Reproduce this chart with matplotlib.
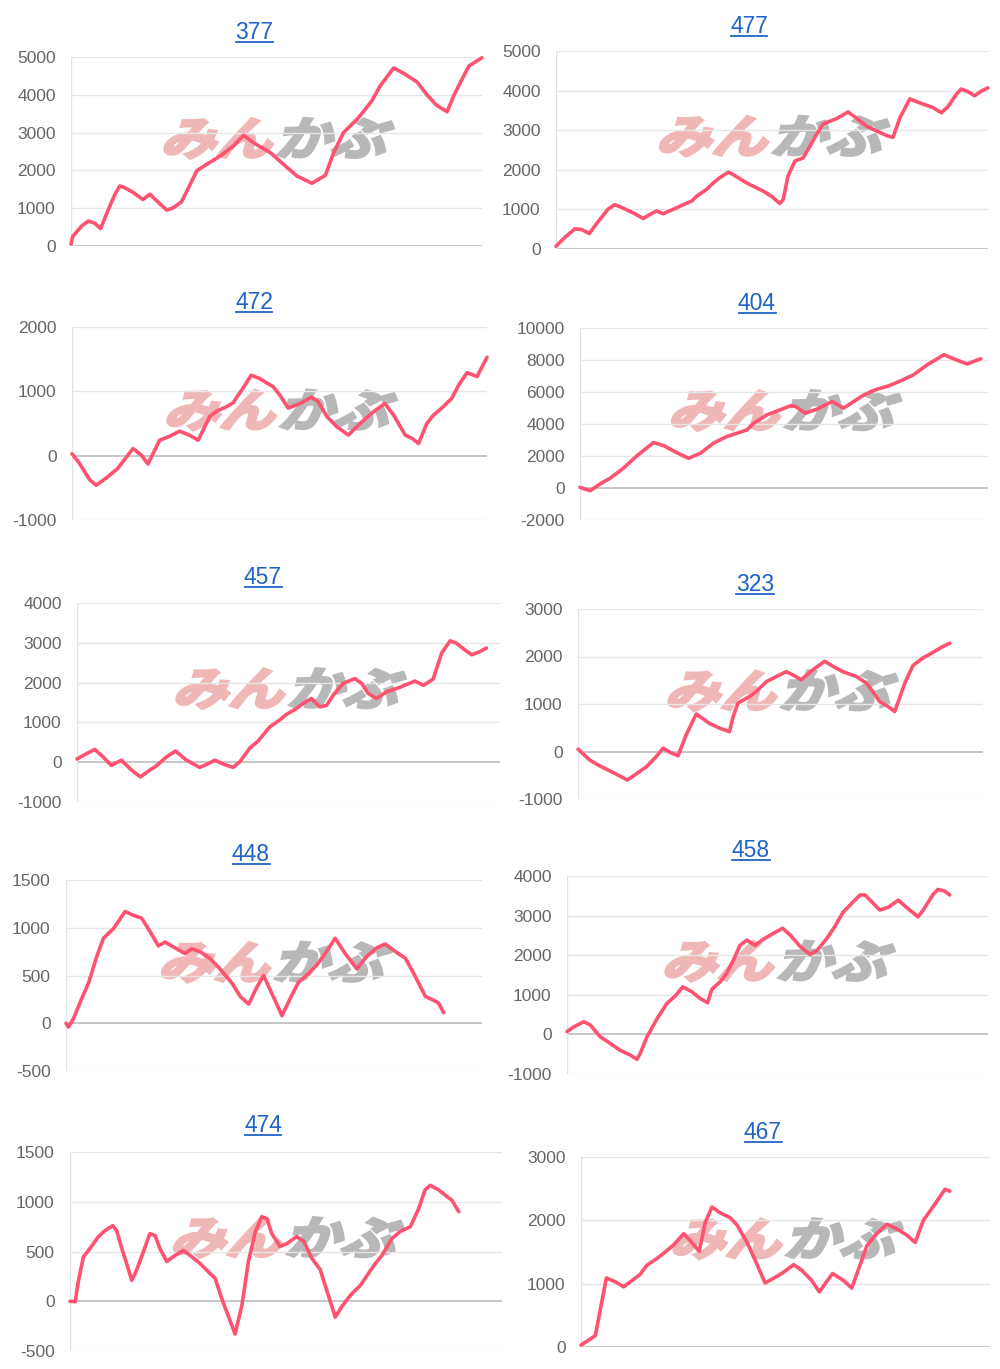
import matplotlib
matplotlib.use('Agg')
import matplotlib.pyplot as plt
from matplotlib.textpath import TextPath
from matplotlib.font_manager import FontProperties
from matplotlib.patches import PathPatch
from matplotlib.transforms import Affine2D, IdentityTransform
from matplotlib.lines import Line2D

# racer numbers shown above each chart
racers = ['377', '477', '472', '404', '457', '323', '448', '458', '474', '467']

# x = position through the period (% of axis), y = cumulative balance
x_377 = [0, 0.4, 2.6, 4.2, 5.8, 7.2, 9.1, 10.7, 11.9, 13.1, 15.2, 17.5, 19.2, 20.9, 23.3,
         24.9, 26.9, 29.0, 30.6, 33.0, 36.3, 39.5, 42.0, 44.4, 48.5, 51.7, 55.0, 58.6,
         61.9, 63.9, 66.3, 70.0, 73.2, 75.2, 78.5, 80.9, 84.2, 86.6, 89.0, 91.5, 93.1,
         94.7, 96.8, 100]
y_377 = [50, 250, 530, 660, 600, 460, 970, 1370, 1590, 1540, 1410, 1230, 1370, 1190, 950,
         1010, 1170, 1630, 1990, 2160, 2380, 2650, 2930, 2730, 2470, 2160, 1850, 1660,
         1870, 2470, 3000, 3400, 3840, 4230, 4710, 4570, 4340, 4000, 3720, 3550, 3970,
         4320, 4760, 4980]

x_477 = [0, 2.1, 4.4, 6.0, 7.7, 9.8, 12.1, 13.6, 15.6, 17.9, 20.2, 21.7, 23.3, 24.8, 27.1,
         29.5, 31.4, 32.5, 34.8, 36.4, 37.9, 39.9, 41.0, 44.1, 48.0, 49.9, 51.8, 52.6,
         53.7, 55.3, 57.2, 58.8, 60.3, 61.8, 64.9, 67.6, 69.5, 71.9, 74.2, 76.9, 78.0,
         79.6, 81.9, 84.2, 87.3, 89.2, 90.7, 92.7, 93.8, 95.4, 96.9, 98.5, 100]
y_477 = [70, 300, 510, 490, 390, 700, 1010, 1120, 1030, 910, 770, 870, 960, 890, 1000,
         1120, 1210, 1330, 1500, 1670, 1800, 1940, 1880, 1670, 1460, 1330, 1150, 1250,
         1840, 2220, 2300, 2600, 2890, 3160, 3290, 3460, 3310, 3100, 2980, 2850, 2820,
         3310, 3790, 3690, 3570, 3440, 3590, 3910, 4040, 3970, 3870, 3990, 4070]

x_472 = [0, 1.8, 4.2, 5.8, 8.2, 11.0, 14.7, 16.7, 18.3, 21.1, 23.5, 25.9, 28.3, 30.4, 33.2,
         34.8, 37.2, 38.8, 41.2, 43.2, 45.2, 48.5, 50.1, 52.1, 54.9, 57.7, 59.3, 61.4,
         63.8, 66.6, 69.4, 72.6, 75.4, 77.5, 80.3, 81.9, 83.5, 85.5, 87.1, 89.1, 91.5,
         93.2, 95.2, 97.6, 100]
y_472 = [30, -120, -370, -460, -350, -200, 110, 10, -130, 240, 300, 380, 320, 240, 610,
         690, 760, 820, 1050, 1250, 1200, 1070, 940, 740, 810, 910, 840, 610,
         450, 320, 500, 680, 810, 630, 320, 270, 190, 500, 630, 740, 890,
         1100, 1290, 1230, 1530]

x_404 = [0, 2.5, 4.9, 7.4, 10.6, 13.9, 18.0, 20.5, 23.7, 26.6, 29.5, 32.7, 36.0, 40.9, 42.6,
         45.8, 49.1, 51.6, 52.8, 55.2, 58.1, 61.8, 64.6, 67.1, 69.6, 72.4, 75.7, 78.6,
         81.8, 85.1, 89.2, 91.7, 94.9, 98.2]
y_404 = [40, -170, 250, 610, 1230, 2000, 2840, 2650, 2210, 1860, 2170, 2800, 3220, 3630, 4050,
         4570, 4890, 5140, 5100, 4680, 4930, 5410, 4990, 5410, 5820, 6140, 6390, 6700,
         7080, 7700, 8330, 8060, 7750, 8080]

x_457 = [0, 1.8, 4.2, 6.2, 8.1, 10.5, 12.9, 15.0, 17.2, 18.8, 21.1, 23.3, 25.9, 29.0, 30.6,
         32.6, 34.9, 36.9, 38.5, 40.9, 42.8, 45.6, 47.9, 49.5, 51.9, 53.5, 55.4, 57.4,
         59.0, 60.6, 62.9, 65.7, 67.3, 68.8, 70.8, 73.2, 76.3, 79.9, 81.9, 84.2, 86.2,
         88.2, 89.7, 91.7, 93.3, 95.3, 96.8]
y_457 = [80, 190, 320, 130, -80, 50, -200, -370, -200, -90, 130, 280, 50, -130, -60,
         50, -60, -130, 10, 360, 530, 890, 1060, 1200, 1350, 1480, 1600, 1390,
         1430, 1690, 1980, 2100, 1980, 1730, 1600, 1770, 1880, 2040, 1930, 2090, 2740,
         3050, 2990, 2820, 2700, 2780, 2870]

x_323 = [0, 2.9, 5.3, 8.6, 12.2, 14.4, 16.9, 19.3, 21.0, 22.8, 24.7, 26.7, 29.2, 32.5, 35.0,
         37.4, 38.3, 39.5, 42.4, 44.0, 46.5, 49.0, 51.4, 53.1, 55.1, 58.0, 60.9, 63.0,
         65.4, 68.7, 71.2, 72.8, 74.5, 76.5, 78.2, 80.7, 82.7, 85.2, 87.7, 90.1, 91.8]
y_323 = [50, -180, -300, -440, -600, -470, -320, -110, 70, -20, -90, 350, 790, 590, 490,
         420, 730, 1020, 1160, 1260, 1470, 1580, 1680, 1610, 1510, 1720, 1900, 1790,
         1680, 1580, 1440, 1260, 1050, 950, 840, 1440, 1810, 1970, 2090, 2210, 2280]

x_448 = [0, 0.6, 1.8, 3.8, 5.4, 7.4, 9.0, 11.4, 14.2, 16.2, 18.2, 20.2, 22.2, 23.8, 25.8,
         28.6, 30.2, 32.2, 34.6, 37.0, 39.9, 41.9, 43.9, 45.9, 47.5, 49.5, 51.9, 53.9,
         55.9, 58.3, 60.3, 62.3, 64.7, 67.1, 69.9, 72.3, 74.7, 76.7, 79.2, 81.6, 83.6,
         86.4, 88.4, 89.6, 90.8]
y_448 = [0, -40, 50, 260, 420, 700, 890, 990, 1170, 1130, 1100, 960, 810, 850, 800,
         730, 780, 750, 680, 570, 420, 280, 200, 380, 500, 310, 80, 260,
         430, 520, 610, 730, 890, 730, 570, 700, 790, 830, 750, 680, 520,
         280, 240, 210, 110]

x_458 = [0, 1.6, 4.0, 5.5, 7.9, 10.3, 12.6, 15.0, 16.6, 17.4, 19.0, 21.3, 23.7, 25.7, 27.5,
         29.6, 31.6, 33.4, 34.4, 36.4, 37.9, 39.5, 41.1, 42.7, 44.7, 46.6, 49.0, 51.2,
         53.0, 55.3, 57.7, 59.3, 61.7, 63.6, 65.6, 68.0, 69.6, 70.8, 74.3, 76.3, 78.7,
         80.6, 83.4, 84.6, 87.0, 88.1, 89.7, 90.9]
y_458 = [70, 190, 320, 240, -60, -230, -400, -520, -630, -480, -60, 380, 780, 970, 1200,
         1080, 910, 800, 1140, 1330, 1540, 1870, 2250, 2380, 2250, 2400, 2550, 2680,
         2510, 2230, 2020, 2110, 2420, 2720, 3090, 3350, 3520, 3520, 3140, 3210, 3390,
         3210, 2970, 3140, 3540, 3660, 3620, 3520]

x_474 = [0, 1.2, 1.9, 3.1, 4.6, 6.6, 8.1, 9.9, 10.8, 12.0, 13.1, 14.3, 15.4, 17.0, 18.5,
         19.7, 20.8, 22.4, 24.3, 26.3, 27.8, 30.1, 32.4, 33.6, 35.1, 37.1, 38.2, 39.8,
         41.3, 42.9, 44.4, 45.6, 46.7, 48.6, 50.2, 52.5, 54.1, 56.0, 57.9, 59.5, 61.4,
         62.9, 64.9, 67.2, 69.1, 70.7, 72.2, 74.5, 76.4, 78.8, 80.7, 82.2, 83.4, 85.3,
         86.9, 88.4, 90.0]
y_474 = [0, -5, 195, 445, 530, 650, 710, 760, 710, 530, 380, 210, 310, 500, 680,
         660, 530, 400, 460, 510, 460, 380, 280, 230, 30, -200, -330, -40,
         400, 700, 850, 830, 680, 550, 580, 650, 600, 430, 320, 100, -160,
         -55, 60, 160, 280, 380, 460, 630, 700, 750, 930, 1120, 1165, 1120,
         1065, 1015, 900]

x_467 = [0, 1.9, 3.5, 4.7, 6.2, 8.4, 10.4, 12.5, 14.5, 16.1, 18.6, 20.6, 22.6, 25.1, 26.7,
         28.9, 30.4, 32.0, 34.0, 36.5, 38.1, 40.6, 43.0, 45.0, 47.5, 49.5, 52.0, 54.0,
         56.4, 58.3, 59.7, 61.5, 64.2, 66.2, 68.2, 69.9, 72.3, 74.8, 77.6, 79.6, 81.7,
         83.7, 85.7, 87.4, 89.0, 90.2]
y_467 = [30, 110, 180, 580, 1090, 1030, 950, 1050, 1150, 1290, 1400, 1500, 1610, 1790, 1680,
         1510, 1970, 2210, 2120, 2040, 1930, 1650, 1310, 1010, 1100, 1180, 1300, 1210,
         1050, 870, 1000, 1160, 1050, 930, 1290, 1600, 1790, 1940, 1850, 1770, 1650,
         2000, 2180, 2340, 2490, 2460]

xs = [x_377, x_477, x_472, x_404, x_457, x_323, x_448, x_458, x_474, x_467]
ys = [y_377, y_477, y_472, y_404, y_457, y_323, y_448, y_458, y_474, y_467]

# y-axis range and step of each chart
y_ranges = [(0, 5000, 1000), (0, 5000, 1000), (-1000, 2000, 1000), (-2000, 10000, 2000),
            (-1000, 4000, 1000), (-1000, 3000, 1000), (-500, 1500, 500), (-1000, 4000, 1000),
            (-500, 1500, 500), (0, 3000, 1000)]

# layout in pixels: plot box (left, top, right, bottom) and title (center x, baseline y)
W, H = 1000, 1369
boxes = [(71, 57, 482, 246), (556, 51, 988, 249),
         (72, 327, 487, 520), (580, 328, 988, 520),
         (77, 603, 500, 802), (578, 609, 983, 799),
         (66, 880, 482, 1071), (567, 876, 988, 1074),
         (70, 1152, 502, 1351), (581, 1157, 990, 1347)]
title_pos = [(254, 39), (749, 33), (254, 309), (757, 310), (263, 584),
             (755, 591), (251, 861), (751, 857), (263, 1132), (763, 1139)]

LINE = '#ff5270'
TICK = '#666666'
LINK = '#1f63c6'
sans = 'Liberation Sans'

fig = plt.figure(figsize=(W / 100, H / 100), dpi=100)
fig.patch.set_facecolor('white')

wm_font = FontProperties(family=['Noto Sans CJK JP'], weight='bold')


def watermark(ax, box):
    # "みんかぶ" logo: pink + gray, slanted, roughly 234 x 42 px
    p1 = TextPath((0, 0), 'みん', prop=wm_font, size=20)
    p2 = TextPath((0, 0), 'かぶ', prop=wm_font, size=20)
    e1 = p1.get_extents()
    e2 = p2.get_extents()
    gap = 3
    total_w = (e1.x1 - e1.x0) + gap + (e2.x1 - e2.x0)
    hgt = max(e1.y1, e2.y1) - min(e1.y0, e2.y0)
    sx = 222 / total_w
    sy = 40 / hgt
    l, t, r, b = box
    cx = l + 0.5 * (r - l)
    cy = H - (t + 0.43 * (b - t))
    x_start = cx - 115
    y_start = cy - 20
    y0 = min(e1.y0, e2.y0)
    tr1 = (Affine2D().translate(-e1.x0, -y0).skew_deg(15, 0)
           .scale(sx, sy).translate(x_start, y_start))
    off2 = (e1.x1 - e1.x0) + gap
    tr2 = (Affine2D().translate(-e2.x0 + off2, -y0).skew_deg(15, 0)
           .scale(sx, sy).translate(x_start, y_start))
    pp1 = PathPatch(tr1.transform_path(p1), facecolor='#f0b7b7', edgecolor='#f0b7b7',
                    lw=2.2, joinstyle='miter', transform=IdentityTransform(), zorder=0.8)
    pp2 = PathPatch(tr2.transform_path(p2), facecolor='#b8b8b8', edgecolor='#b8b8b8',
                    lw=2.2, joinstyle='miter', transform=IdentityTransform(), zorder=0.8)
    ax.add_artist(pp1)
    ax.add_artist(pp2)


axes = []
for i in range(len(racers)):
    l, t, r, b = boxes[i]
    ax = fig.add_axes([l / W, 1 - b / H, (r - l) / W, (b - t) / H])
    lo, hi, step = y_ranges[i]
    ticks = list(range(lo, hi + 1, step))
    ax.set_xlim(0, 100)
    ax.set_ylim(lo, hi)
    for v in ticks:
        if v == 0:
            ax.axhline(v, color='#bdbdbd', lw=1.2, zorder=1)
        else:
            ax.axhline(v, color='#e6e6e6', lw=1.0, zorder=1)
    ax.axvline(0, color='#e2e2e2', lw=1.0, zorder=1)
    for s in ax.spines.values():
        s.set_visible(False)
    ax.set_xticks([])
    ax.set_yticks(ticks)
    ax.set_yticklabels([str(v) for v in ticks], fontfamily=sans, fontsize=12.5, color=TICK)
    ax.tick_params(axis='y', length=0, pad=11)
    ax.patch.set_alpha(0)
    watermark(ax, boxes[i])
    ax.plot(xs[i], ys[i], color=LINE, lw=2.6, solid_joinstyle='round',
            solid_capstyle='round', zorder=3, clip_on=False)
    axes.append(ax)

titles = []
for i, name in enumerate(racers):
    tx, ty = title_pos[i]
    titles.append(fig.text(tx / W, 1 - ty / H, name, ha='center', va='baseline',
                           fontfamily=sans, fontsize=16.5, color=LINK))

# underline the titles like links
fig.canvas.draw()
renderer = fig.canvas.get_renderer()
for txt in titles:
    bb = txt.get_window_extent(renderer)
    x0 = bb.x0 + 0.5
    x1 = bb.x1 - 0.5
    base = txt.get_position()[1] * H
    fig.add_artist(Line2D([x0, x1], [base - 3, base - 3], color=LINK, lw=1.3,
                          transform=IdentityTransform()))

fig.savefig('out.png', dpi=100)
